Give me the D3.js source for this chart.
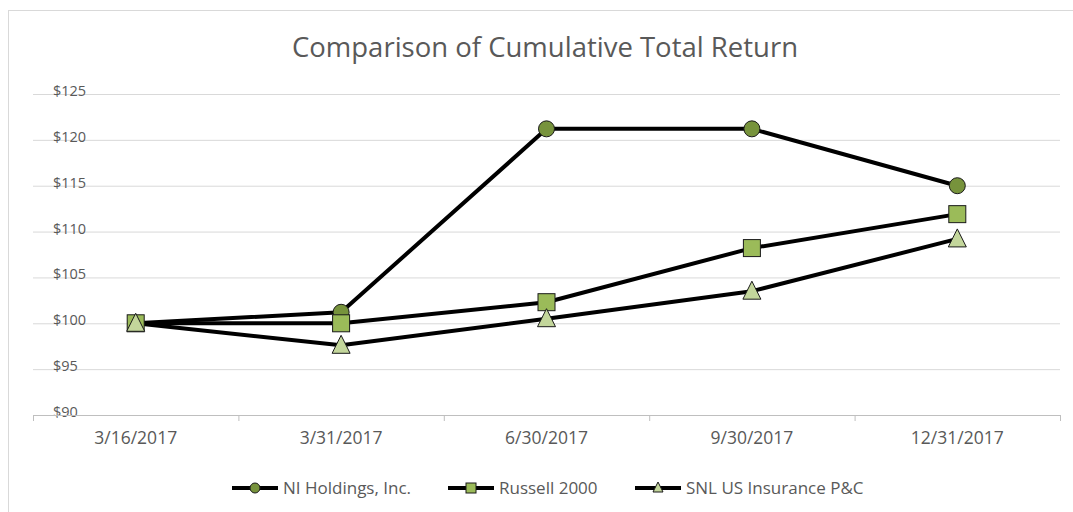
<!DOCTYPE html>
<html>
<head>
<meta charset="utf-8">
<script src="https://cdn.jsdelivr.net/npm/d3@7"></script>
<style>
  body { margin: 0; background: #fff; }
  svg { display: block; }
  text { font-family: "Open Sans", sans-serif; fill: #595959; }
</style>
</head>
<body>
<svg width="1073" height="512"></svg>
<script>
// chart data
const dates = ['3/16/2017', '3/31/2017', '6/30/2017', '9/30/2017', '12/31/2017'];
const niHoldings = [100, 101.2, 121.2, 121.2, 115.0];
const russell2000 = [100, 100.0, 102.3, 108.2, 111.9];
const snlInsurance = [100, 97.6, 100.5, 103.5, 109.2];
const yTicks = [90, 95, 100, 105, 110, 115, 120, 125];

const series = [
    { name: 'NI Holdings, Inc.', values: niHoldings, shape: 'circle', fill: '#77933c' },
    { name: 'Russell 2000', values: russell2000, shape: 'square', fill: '#9bbb59' },
    { name: 'SNL US Insurance P&C', values: snlInsurance, shape: 'triangle', fill: '#c3d69b' }
];

const svg = d3.select('svg');
const margin = { left: 33, right: 1060, top: 94, bottom: 415 };

// outer chart border
svg.append('rect')
    .attr('x', 8.5).attr('y', 10.5)
    .attr('width', 1090).attr('height', 520)
    .attr('fill', 'none')
    .attr('stroke', '#d9d9d9');

const x = d3.scaleBand().domain(dates).range([margin.left, margin.right]);
const y = d3.scaleLinear().domain([90, 125]).range([margin.bottom, margin.top]);

// gridlines + y labels
const yAxis = svg.append('g').attr('transform', `translate(${margin.left},0)`)
    .call(d3.axisLeft(y).tickValues(yTicks).tickSize(-(margin.right - margin.left)).tickFormat(d => '$' + d));
yAxis.select('.domain').remove();
yAxis.selectAll('line').attr('stroke', '#d9d9d9');
yAxis.selectAll('text')
    .attr('x', 20).attr('dy', '0.1em')
    .attr('text-anchor', 'start')
    .style('font-size', '14.5px')
    .style('fill', '#595959');

// x axis
const xAxis = svg.append('g').attr('transform', `translate(0,${margin.bottom})`)
    .call(d3.axisBottom(x).tickSize(0).tickPadding(17));
xAxis.select('.domain').attr('stroke', '#bfbfbf');
xAxis.selectAll('text').style('font-size', '17.5px').style('fill', '#595959');
svg.append('g').selectAll('line')
    .data(dates.concat(['end']))
    .enter().append('line')
    .attr('x1', (d, i) => margin.left + i * x.bandwidth() + 0.5)
    .attr('x2', (d, i) => margin.left + i * x.bandwidth() + 0.5)
    .attr('y1', margin.bottom).attr('y2', margin.bottom + 6)
    .attr('stroke', '#bfbfbf');

// title
svg.append('text')
    .attr('x', 545).attr('y', 57)
    .attr('text-anchor', 'middle')
    .style('font-size', '27.5px')
    .style('fill', '#595959')
    .text('Comparison of Cumulative Total Return');

function drawMarker(g, shape, fill, cx, cy) {
    if (shape === 'circle') {
        g.append('circle').attr('cx', cx).attr('cy', cy).attr('r', 8)
            .attr('fill', fill).attr('stroke', '#1a1a1a').attr('stroke-width', 1);
    } else if (shape === 'square') {
        g.append('rect').attr('x', cx - 8.5).attr('y', cy - 8.5).attr('width', 17).attr('height', 17)
            .attr('fill', fill).attr('stroke', '#1a1a1a').attr('stroke-width', 1);
    } else {
        g.append('path')
            .attr('d', `M${cx},${cy - 10}L${cx + 9},${cy + 8}L${cx - 9},${cy + 8}Z`)
            .attr('fill', fill).attr('stroke', '#1a1a1a').attr('stroke-width', 1);
    }
}

const cx = d => x(d) + x.bandwidth() / 2;
const line = d3.line().x((v, i) => cx(dates[i])).y(v => y(v));

// lines first, then markers on top
series.forEach(s => {
    svg.append('path')
        .datum(s.values)
        .attr('d', line)
        .attr('fill', 'none')
        .attr('stroke', '#000')
        .attr('stroke-width', 4)
        .attr('stroke-linejoin', 'round');
});
series.forEach(s => {
    const g = svg.append('g');
    s.values.forEach((v, i) => drawMarker(g, s.shape, s.fill, cx(dates[i]), y(v)));
});

// legend
const legendX = [232, 448, 635];
series.forEach((s, i) => {
    const g = svg.append('g');
    const lx = legendX[i];
    g.append('line').attr('x1', lx).attr('x2', lx + 46).attr('y1', 488).attr('y2', 488)
        .attr('stroke', '#000').attr('stroke-width', 4);
    if (s.shape === 'circle') {
        g.append('circle').attr('cx', lx + 23).attr('cy', 488).attr('r', 5)
            .attr('fill', s.fill).attr('stroke', '#1a1a1a');
    } else if (s.shape === 'square') {
        g.append('rect').attr('x', lx + 18).attr('y', 483).attr('width', 10).attr('height', 10)
            .attr('fill', s.fill).attr('stroke', '#1a1a1a');
    } else {
        g.append('path').attr('d', `M${lx + 23},482L${lx + 28},492L${lx + 18},492Z`)
            .attr('fill', s.fill).attr('stroke', '#1a1a1a');
    }
    g.append('text').attr('x', lx + 51).attr('y', 494)
        .style('font-size', '17px').style('fill', '#595959')
        .text(s.name);
});
</script>
</body>
</html>
